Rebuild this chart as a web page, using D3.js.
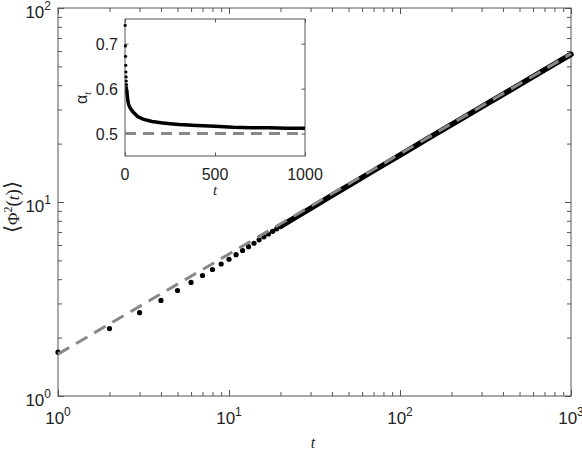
<!DOCTYPE html>
<html>
<head>
<meta charset="utf-8">
<script src="https://cdn.jsdelivr.net/npm/d3@7"></script>
<style>
body { margin: 0; background: #fff; }
svg { display: block; font-family: "Liberation Sans", Arial, sans-serif; }
.axis path { display: none; }
.axis line { stroke: #555; }
</style>
</head>
<body>
<div id="chart"></div>
<script>
// main plot: <Phi^2(t)> vs t (log-log)
const tDots = [1, 2, 3, 4, 5, 6, 7, 8, 9, 10, 11, 12, 13, 14, 15, 16, 17, 18, 19, 20];
const phiDots = [1.683, 2.225, 2.687, 3.110, 3.498, 3.850, 4.179, 4.487, 4.790, 5.070,
                 5.351, 5.622, 5.886, 6.130, 6.382, 6.612, 6.838, 7.059, 7.276, 7.488];
const tLine = [20, 22, 25, 30, 40, 50, 70, 100, 150, 200, 300, 500, 700, 1000];
const phiLine = [7.488, 7.884, 8.438, 9.273, 10.81, 12.15, 14.49, 17.46, 21.57, 25.02, 30.92, 40.24, 47.99, 57.68];
const tFit = [1, 1000];
const phiFit = [1.644, 58.07];
const xMajor = [1, 10, 100, 1000];
const xExp = ["0", "1", "2", "3"];
const yMajor = [1, 10, 100];
const yExp = ["0", "1", "2"];

// inset: alpha_t vs t
const tAlphaDots = [1, 2, 3, 4, 5, 6, 7, 8, 9, 10];
const alphaDots = [0.741, 0.695, 0.672, 0.652, 0.637, 0.626, 0.617, 0.609, 0.602, 0.596];
const tAlphaLine = [10, 15, 20, 30, 45, 70, 100, 150, 200, 250, 300, 400, 500, 600, 700, 800, 900, 1000];
const alphaLine = [0.596, 0.575, 0.565, 0.556, 0.548, 0.538, 0.532, 0.527, 0.524, 0.522, 0.520, 0.518, 0.516, 0.514, 0.513, 0.513, 0.512, 0.512];
const tRef = [0, 1000];
const alphaRef = [0.5, 0.5];
const insetXTicks = [0, 500, 1000];
const insetYTicks = [0.5, 0.6, 0.7];

const width = 582, height = 457;
const svg = d3.select("#chart").append("svg")
    .attr("width", width).attr("height", height);

const x = d3.scaleLog().domain([1, 1000]).range([58, 571]);
const y = d3.scaleLog().domain([1, 100]).range([396, 8]);

const xMinor = x.ticks().filter(v => !xMajor.includes(v));
const yMinor = y.ticks().filter(v => !yMajor.includes(v));

function boxAxes(g, sx, sy, majX, majY, minX, minY, len, minLen) {
    const [x0, x1] = sx.range();
    const [y0, y1] = sy.range();
    const sets = [
        [d3.axisBottom(sx), `translate(0,${y0})`, majX, minX],
        [d3.axisTop(sx), `translate(0,${y1})`, majX, minX],
        [d3.axisLeft(sy), `translate(${x0},0)`, majY, minY],
        [d3.axisRight(sy), `translate(${x1},0)`, majY, minY]
    ];
    sets.forEach(([ax, tr, maj, min]) => {
        g.append("g").attr("class", "axis").attr("transform", tr)
            .call(ax.tickValues(maj).tickSize(-len).tickFormat(""));
        if (min.length) {
            g.append("g").attr("class", "axis").attr("transform", tr)
                .call(ax.tickValues(min).tickSize(-minLen).tickFormat(""));
        }
    });
    g.append("rect")
        .attr("x", x0).attr("y", y1)
        .attr("width", x1 - x0).attr("height", y0 - y1)
        .attr("fill", "none").attr("stroke", "#555");
}

const main = svg.append("g");
boxAxes(main, x, y, xMajor, yMajor, xMinor, yMinor, 6, 4);

// tick labels with superscripts
xMajor.forEach((v, i) => {
    const t = main.append("text")
        .attr("x", x(v)).attr("y", 424)
        .attr("text-anchor", "middle").attr("font-size", 17).attr("fill", "#222");
    t.append("tspan").text("10");
    t.append("tspan").attr("dy", -8).attr("font-size", 12).text(xExp[i]);
});
yMajor.forEach((v, i) => {
    const t = main.append("text")
        .attr("x", 51).attr("y", y(v) + 10)
        .attr("text-anchor", "end").attr("font-size", 17).attr("fill", "#222");
    t.append("tspan").text("10");
    t.append("tspan").attr("dy", -8).attr("font-size", 12).text(yExp[i]);
});

// axis titles
main.append("text")
    .attr("x", 313).attr("y", 448)
    .attr("text-anchor", "middle").attr("font-size", 16)
    .attr("font-family", "Liberation Serif, serif").attr("font-style", "italic")
    .attr("fill", "#222").text("t");

const yl = main.append("text")
    .attr("transform", "translate(19,207) rotate(-90)")
    .attr("text-anchor", "middle").attr("font-size", 17)
    .attr("font-family", "Liberation Serif, DejaVu Serif, serif")
    .attr("fill", "#222");
yl.append("tspan").attr("font-size", 21).attr("font-weight", 200).text("\u27E8");
yl.append("tspan").text("\u03A6");
yl.append("tspan").attr("dy", -7).attr("font-size", 12).text("2");
yl.append("tspan").attr("dy", 7).attr("font-size", 19).text("(");
yl.append("tspan").attr("font-style", "italic").text("t");
yl.append("tspan").attr("font-size", 19).text(")");
yl.append("tspan").attr("font-size", 21).attr("font-weight", 200).text("\u27E9");

// data
const line = d3.line().x(d => x(d[0])).y(d => y(d[1]));
main.append("path")
    .datum(d3.zip(tLine, phiLine))
    .attr("d", line)
    .attr("fill", "none").attr("stroke", "#000")
    .attr("stroke-width", 5.5).attr("stroke-linecap", "round");
main.selectAll("circle.dot")
    .data(d3.zip(tDots, phiDots))
    .join("circle").attr("class", "dot")
    .attr("cx", d => x(d[0])).attr("cy", d => y(d[1]))
    .attr("r", 2.6).attr("fill", "#000");
main.append("path")
    .datum(d3.zip(tFit, phiFit))
    .attr("d", line)
    .attr("fill", "none").attr("stroke", "#888")
    .attr("stroke-width", 3).attr("stroke-dasharray", "13,8");

// inset
const ix = d3.scaleLinear().domain([0, 1000]).range([125, 305]);
const iy = d3.scaleLinear().domain([0.45, 0.755]).range([156, 19]);
const inset = svg.append("g");
inset.append("rect")
    .attr("x", 125).attr("y", 19).attr("width", 180).attr("height", 137)
    .attr("fill", "#fff");
boxAxes(inset, ix, iy, insetXTicks, insetYTicks, [], [], 3.5, 0);

inset.append("path")
    .datum(d3.zip(tRef, alphaRef))
    .attr("d", d3.line().x(d => ix(d[0])).y(d => iy(d[1])))
    .attr("fill", "none").attr("stroke", "#888")
    .attr("stroke-width", 3).attr("stroke-dasharray", "11,7");
inset.append("path")
    .datum(d3.zip(tAlphaLine, alphaLine))
    .attr("d", d3.line().x(d => ix(d[0])).y(d => iy(d[1])))
    .attr("fill", "none").attr("stroke", "#000")
    .attr("stroke-width", 3.5);
inset.selectAll("circle")
    .data(d3.zip(tAlphaDots, alphaDots))
    .join("circle")
    .attr("cx", d => ix(d[0])).attr("cy", d => iy(d[1]))
    .attr("r", 1.6).attr("fill", "#000");

inset.selectAll("text.xl")
    .data(insetXTicks).join("text").attr("class", "xl")
    .attr("x", d => ix(d)).attr("y", 180)
    .attr("text-anchor", "middle").attr("font-size", 16).attr("fill", "#222")
    .text(d => d);
inset.selectAll("text.yl")
    .data(insetYTicks).join("text").attr("class", "yl")
    .attr("x", 118).attr("y", d => iy(d) + 6)
    .attr("text-anchor", "end").attr("font-size", 16).attr("fill", "#222")
    .text(d => d.toFixed(1));
inset.append("text")
    .attr("x", 215).attr("y", 195)
    .attr("text-anchor", "middle").attr("font-size", 15)
    .attr("font-family", "Liberation Serif, serif").attr("font-style", "italic")
    .attr("fill", "#222").text("t");
const al = inset.append("text")
    .attr("transform", "translate(87,98) rotate(-90)")
    .attr("text-anchor", "middle").attr("font-size", 16).attr("fill", "#222");
al.append("tspan").text("\u03B1");
al.append("tspan").attr("dy", 4).attr("font-size", 10)
    .attr("font-family", "Liberation Serif, serif").attr("font-style", "italic").text("t");
</script>
</body>
</html>
